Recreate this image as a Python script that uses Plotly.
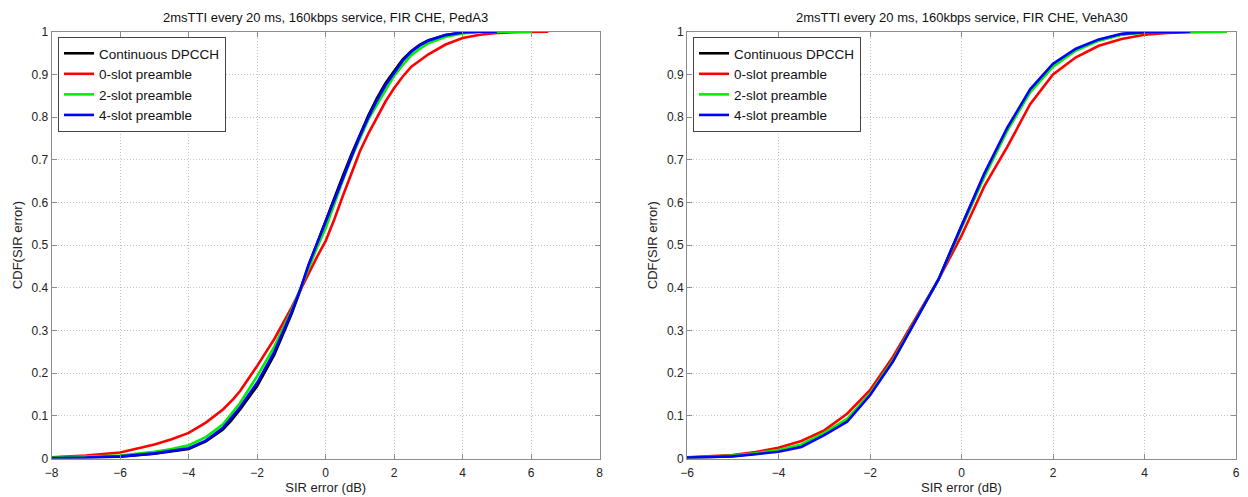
import plotly.graph_objects as go

# ---- Left panel (PedA3) ----
ped_black_x = [-8,-7,-6,-5,-4.5,-4,-3.5,-3,-2.75,-2.5,-2,-1.5,-1,-0.75,-0.5,-0.25,0,0.25,0.5,0.75,1,1.25,1.5,1.75,2,2.25,2.5,2.75,3,3.5,4,4.5,5]
ped_black_y = [0.001,0.002,0.004,0.011,0.016,0.022,0.04,0.068,0.09,0.115,0.17,0.243,0.338,0.392,0.452,0.505,0.556,0.61,0.662,0.712,0.76,0.805,0.845,0.88,0.908,0.935,0.955,0.97,0.98,0.992,0.998,1.0,1.0]
ped_blue_x = ped_black_x
ped_blue_y = [0.001,0.002,0.005,0.012,0.018,0.024,0.042,0.072,0.096,0.12,0.178,0.25,0.342,0.394,0.454,0.505,0.555,0.607,0.658,0.708,0.756,0.8,0.84,0.875,0.905,0.932,0.953,0.968,0.979,0.992,0.998,1.0,1.0]
ped_green_x = [-8,-7,-6,-5,-4.5,-4,-3.5,-3,-2.8,-2.5,-2,-1.5,-1,-0.75,-0.5,-0.25,0,0.25,0.5,0.75,1,1.25,1.5,1.75,2,2.25,2.5,2.75,3,3.5,4,4.5,5,6]
ped_green_y = [0.002,0.004,0.007,0.016,0.022,0.031,0.05,0.08,0.1,0.13,0.193,0.262,0.346,0.396,0.449,0.495,0.54,0.597,0.652,0.705,0.75,0.795,0.83,0.865,0.897,0.922,0.945,0.96,0.973,0.988,0.996,1.0,1.0,1.0]
ped_red_x = [-8,-7,-6,-5,-4.5,-4,-3.5,-3,-2.7,-2.5,-2,-1.5,-1,-0.75,-0.5,-0.25,0,0.25,0.5,0.75,1,1.25,1.5,1.75,2,2.25,2.5,3,3.5,4,4.5,5,5.5,6,6.5]
ped_red_y = [0.003,0.007,0.014,0.033,0.045,0.06,0.084,0.115,0.139,0.158,0.217,0.28,0.353,0.394,0.435,0.473,0.51,0.56,0.615,0.67,0.72,0.762,0.8,0.837,0.868,0.895,0.918,0.947,0.97,0.985,0.993,0.997,0.999,1.0,1.0]

# ---- Right panel (VehA30) ----
veh_x = [-6,-5.5,-5,-4.5,-4,-3.5,-3,-2.5,-2,-1.5,-1,-0.5,0,0.5,1,1.5,2,2.5,3,3.5,4,4.5,5]
veh_black_y = [0.002,0.003,0.006,0.011,0.018,0.03,0.057,0.09,0.15,0.228,0.325,0.42,0.545,0.665,0.772,0.862,0.922,0.958,0.98,0.994,0.999,1.0,1.0]
veh_blue_y = [0.002,0.003,0.005,0.01,0.016,0.027,0.055,0.086,0.148,0.227,0.324,0.42,0.545,0.668,0.775,0.865,0.925,0.96,0.982,0.995,0.999,1.0,1.0]
veh_green_x = veh_x + [5.5, 5.8]
veh_green_y = [0.002,0.004,0.007,0.012,0.02,0.033,0.06,0.093,0.152,0.23,0.326,0.42,0.54,0.66,0.768,0.858,0.918,0.956,0.979,0.993,0.998,1.0,1.0,1.0,1.0]
veh_red_x = [-6,-5.5,-5,-4.5,-4,-3.5,-3,-2.5,-2,-1.5,-1,-0.5,0,0.5,1,1.5,2,2.5,3,3.5,4,4.5,5,5.5,5.8]
veh_red_y = [0.003,0.005,0.008,0.015,0.025,0.041,0.066,0.105,0.16,0.238,0.328,0.42,0.522,0.638,0.73,0.83,0.9,0.94,0.967,0.983,0.993,0.997,0.999,1.0,1.0]

names = ["Continuous DPCCH", "0-slot preamble", "2-slot preamble", "4-slot preamble"]
colors = ["#000000", "#ff0000", "#00ee00", "#0000ff"]
titles = ["2msTTI every 20 ms, 160kbps service, FIR CHE, PedA3",
          "2msTTI every 20 ms, 160kbps service, FIR CHE, VehA30"]
x_title = "SIR error (dB)"
y_title = "CDF(SIR error)"
left_xticks = [-8, -6, -4, -2, 0, 2, 4, 6, 8]
right_xticks = [-6, -4, -2, 0, 2, 4, 6]
yticks = [0, 0.1, 0.2, 0.3, 0.4, 0.5, 0.6, 0.7, 0.8, 0.9, 1]
ytick_text = ["0", "0.1", "0.2", "0.3", "0.4", "0.5", "0.6", "0.7", "0.8", "0.9", "1"]

FONT = "Liberation Sans, Arial, sans-serif"

# The page body has an 8px default margin: size the figure to fit the window
OFF = 8
W, H = 1248 - OFF, 497 - OFF
def px(x):
    return (x - OFF) / W
def py(y):
    return 1 - (y - OFF) / H

fig = go.Figure()

left = [(ped_black_x, ped_black_y), (ped_red_x, ped_red_y), (ped_green_x, ped_green_y), (ped_blue_x, ped_blue_y)]
right = [(veh_x, veh_black_y), (veh_red_x, veh_red_y), (veh_green_x, veh_green_y), (veh_x, veh_blue_y)]

for i, (xs, ys) in enumerate(left):
    fig.add_trace(go.Scatter(x=xs, y=ys, mode="lines", name=names[i],
                             line=dict(color=colors[i], width=2.6),
                             xaxis="x", yaxis="y", legend="legend"))
for i, (xs, ys) in enumerate(right):
    fig.add_trace(go.Scatter(x=xs, y=ys, mode="lines", name=names[i],
                             line=dict(color=colors[i], width=2.6),
                             xaxis="x2", yaxis="y2", legend="legend2"))

ydom = [py(458.5), py(31.7)]
axis_common = dict(showline=True, linecolor="#8c8c8c", linewidth=1, mirror="ticks",
                   ticks="inside", ticklen=5, tickcolor="#8c8c8c", automargin=False,
                   showgrid=True, gridcolor="#c4c4c4", griddash="1px,2px", gridwidth=1,
                   zeroline=False, tickfont=dict(family=FONT, size=12, color="#222"),
                   title_font=dict(family=FONT, size=13, color="#222"))

legend_common = dict(xanchor="left", yanchor="top", bgcolor="white", bordercolor="#444",
                     borderwidth=1, font=dict(family=FONT, size=13.5, color="#111"),
                     tracegroupgap=0)

fig.update_layout(
    width=W, height=H,
    margin=dict(l=0, r=0, t=0, b=0, autoexpand=False),
    paper_bgcolor="white", plot_bgcolor="white",
    font=dict(family=FONT, color="#222"),
    xaxis=dict(domain=[px(51.7), px(599.7)], range=[-8, 8], tickvals=left_xticks,
               anchor="y", ticklabelstandoff=3, title=dict(text=x_title, standoff=2), **axis_common),
    yaxis=dict(domain=ydom, range=[0, 1], tickvals=yticks, ticktext=ytick_text,
               anchor="x", title=dict(text=y_title, standoff=6), **axis_common),
    xaxis2=dict(domain=[px(687), px(1236)], range=[-6, 6], tickvals=right_xticks,
                anchor="y2", ticklabelstandoff=3, title=dict(text=x_title, standoff=2), **axis_common),
    yaxis2=dict(domain=ydom, range=[0, 1], tickvals=yticks, ticktext=ytick_text,
                anchor="x2", title=dict(text=y_title, standoff=6), **axis_common),
    legend=dict(x=px(58), y=py(37), **legend_common),
    legend2=dict(x=px(693), y=py(37), **legend_common),
    annotations=[
        dict(text=titles[0], x=px((51.7 + 599.7) / 2), y=py(17), xref="paper", yref="paper",
             xanchor="center", yanchor="middle", showarrow=False,
             font=dict(family=FONT, size=13, color="#111")),
        dict(text=titles[1], x=px((687 + 1236) / 2), y=py(17), xref="paper", yref="paper",
             xanchor="center", yanchor="middle", showarrow=False,
             font=dict(family=FONT, size=13, color="#111")),
    ],
)

fig.write_html("out.html")
